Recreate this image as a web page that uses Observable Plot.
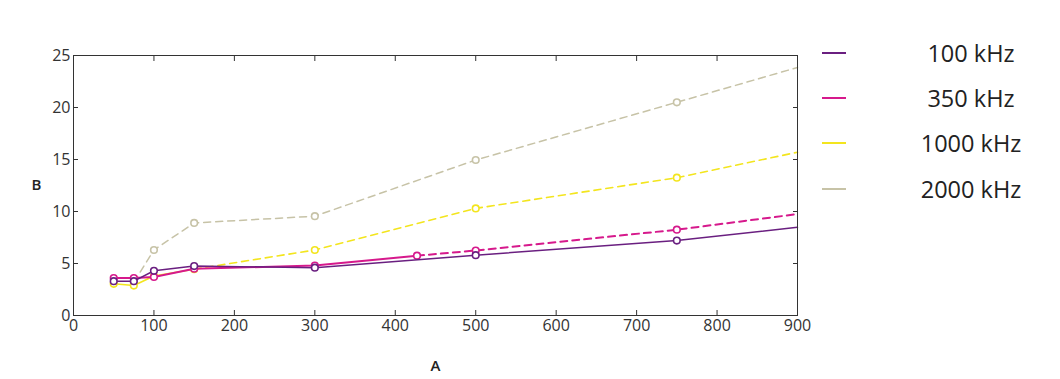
<!DOCTYPE html>
<html>
<head>
<meta charset="utf-8">
<script src="https://cdn.jsdelivr.net/npm/d3@7"></script>
<script src="https://cdn.jsdelivr.net/npm/@observablehq/plot@0.6"></script>
<style>
  html, body { margin: 0; padding: 0; background: #fff; }
  #wrap { position: relative; width: 1060px; height: 379px; font-family: "Open Sans", sans-serif; }
  #legend { position: absolute; left: 822px; top: 30px; }
  .item { display: flex; align-items: center; height: 45.3px; }
  .sw { width: 24px; height: 0; border-top: 2px solid; }
  .lab { width: 250px; text-align: center; font-size: 23.5px; color: #222; }
</style>
</head>
<body>
<div id="wrap"><div id="legend"></div></div>
<script>
// Series names and colors
const seriesNames = ["100 kHz", "350 kHz", "1000 kHz", "2000 kHz"];
const seriesColors = ["#6a1f80", "#d6198c", "#f3e51e", "#c7c3a7"];

// x values per series
const x100 = [50, 75, 100, 150, 300, 500, 750, 900];
const x350 = [50, 75, 100, 150, 300, 427, 500, 750, 900];
const x1000 = [50, 75, 100, 150, 300, 500, 750, 900];
const x2000 = [75, 100, 150, 300, 500, 750, 900];

// y values per series
const y100 = [3.3, 3.3, 4.3, 4.75, 4.6, 5.8, 7.2, 8.48];
const y350 = [3.6, 3.6, 3.7, 4.5, 4.8, 5.75, 6.25, 8.25, 9.75];
const y1000 = [3.05, 2.88, 3.8, 4.45, 6.3, 10.3, 13.25, 15.7];
const y2000 = [3.2, 6.3, 8.9, 9.55, 14.95, 20.5, 23.85];

// solid up to this x, dashed after
const solidUntil = [900, 427, 150, 0];
// last measured point (no marker at line ends)
const lastMarker = [750, 750, 750, 750];

const xTicks = [0, 100, 200, 300, 400, 500, 600, 700, 800, 900];
const yTicks = [0, 5, 10, 15, 20, 25];

const xsAll = [x100, x350, x1000, x2000];
const ysAll = [y100, y350, y1000, y2000];

const rows = [];
xsAll.forEach((xs, i) => xs.forEach((x, j) => rows.push({s: seriesNames[i], i, x, y: ysAll[i][j]})));

const widths = [1.5, 2, 1.6, 1.5];

const order = [3, 2, 1, 0]; // draw gray first, purple last
const marks = [];
for (const i of order) {
  const d = rows.filter(r => r.i === i);
  const solid = d.filter(r => r.x <= solidUntil[i]);
  const dashed = d.filter(r => r.x >= solidUntil[i]);
  if (solid.length > 1) marks.push(Plot.line(solid, {x: "x", y: "y", stroke: seriesColors[i], strokeWidth: widths[i]}));
  if (dashed.length > 1) marks.push(Plot.line(dashed, {x: "x", y: "y", stroke: seriesColors[i], strokeWidth: widths[i], strokeDasharray: "7,5"}));
  marks.push(Plot.dot(d.filter(r => r.x <= lastMarker[i]), {x: "x", y: "y", r: 3.3, stroke: seriesColors[i], fill: "white", strokeWidth: 1.6}));
}

const chart = Plot.plot({
  width: 1060,
  height: 379,
  marginLeft: 73,
  marginRight: 263,
  marginTop: 55,
  marginBottom: 64,
  style: {fontFamily: "Open Sans, sans-serif", fontSize: "16px", color: "#333", background: "white"},
  x: {domain: [0, 900], ticks: xTicks},
  y: {domain: [0, 25], ticks: yTicks},
  marks: [
    ...marks,
    Plot.frame({stroke: "#333", strokeWidth: 1}),
    Plot.axisX({anchor: "bottom", ticks: xTicks, tickSize: -5, tickPadding: 9, label: null, fontSize: 16}),
    Plot.axisX({anchor: "top", ticks: xTicks, tickSize: -5, tickFormat: () => "", label: null}),
    Plot.axisY({anchor: "left", ticks: yTicks, tickSize: -5, tickPadding: 8, label: null, fontSize: 16}),
    Plot.axisY({anchor: "right", ticks: yTicks, tickSize: -5, tickFormat: () => "", label: null}),
    Plot.text(["A"], {frameAnchor: "bottom", dy: 55, text: d => d, fontWeight: "600", fontSize: 15, fill: "#222"}),
    Plot.text(["B"], {frameAnchor: "left", dx: -42, text: d => d, fontWeight: "600", fontSize: 15, fill: "#222"})
  ]
});
const wrap = document.getElementById("wrap");
wrap.insertBefore(chart, wrap.firstChild);

const legend = document.getElementById("legend");
seriesNames.forEach((n, i) => {
  const it = document.createElement("div");
  it.className = "item";
  const sw = document.createElement("div");
  sw.className = "sw";
  sw.style.borderTopColor = seriesColors[i];
  const lab = document.createElement("div");
  lab.className = "lab";
  lab.textContent = n;
  it.appendChild(sw); it.appendChild(lab);
  legend.appendChild(it);
});
</script>
</body>
</html>
